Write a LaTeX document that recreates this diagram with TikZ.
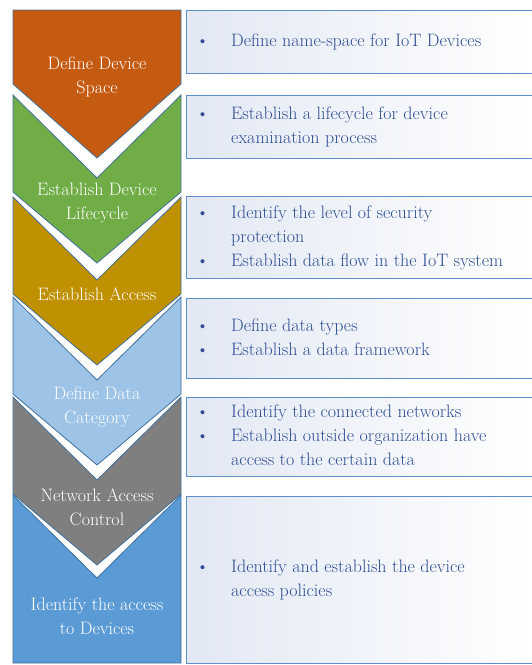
\documentclass[tikz,border=0pt]{standalone}
\usepackage{tikz}
\usetikzlibrary{positioning}

\definecolor{chevLine}{HTML}{41719C}
\definecolor{chevOrange}{HTML}{C55A11}
\definecolor{chevGreen}{HTML}{70AD47}
\definecolor{chevGold}{HTML}{BF9000}
\definecolor{chevSky}{HTML}{9DC3E6}
\definecolor{chevGray}{HTML}{7F7F7F}
\definecolor{chevBlue}{HTML}{5B9BD5}
\definecolor{boxLine}{HTML}{5E8FCA}
\definecolor{boxTint}{HTML}{E2E8F4}
\definecolor{boxText}{HTML}{2F4F94}

\tikzset{
  chevron/.style={draw=chevLine, line width=0.8pt, line join=miter},
  chevtext/.style={text=white, align=center, inner sep=0pt,
    font=\fontsize{18}{24}\selectfont},
  descbox/.style={draw=boxLine, line width=1pt, left color=boxTint, right color=white,
    minimum width=347pt, anchor=north west, inner sep=0pt},
  desctext/.style={text=boxText, inner sep=0pt, font=\fontsize{18}{24}\selectfont}
}
\newcommand{\bulletrows}[1]{\begin{tabular}{@{}p{35pt}@{}l@{}}#1\end{tabular}}

\begin{document}
\begin{tikzpicture}[x=1pt,y=-1pt]
  \useasboundingbox (0,0) rectangle (532,665);
  % chevrons on the left
  \draw[chevron, fill=chevOrange] (13,10) -- (181,10) -- (181,84) -- (97,158) -- (13,84) -- cycle;
  \foreach \t/\col in {95/chevGreen,197/chevGold,297/chevSky,397/chevGray}{
    \draw[chevron, fill=\col] (13,\t) -- (97,\t+83) -- (181,\t) -- (181,\t+97) -- (97,\t+168) -- (13,\t+97) -- cycle;
  }
  \draw[chevron, fill=chevBlue] (13,495) -- (97,578) -- (181,495) -- (181,663) -- (13,663) -- cycle;

  \node[chevtext] (c1) at (97,77) {Define Device\\Space};
  \node[chevtext] (c2) at (97,203) {Establish Device\\Lifecycle};
  \node[chevtext] (c3) at (97,294) {Establish Access};
  \node[chevtext] (c4) at (97,407) {Define Data\\Category};
  \node[chevtext] (c5) at (97,507) {Network Access\\Control};
  \node[chevtext] (c6) at (97,616) {Identify the access\\to Devices};

  % boxes on the right
  \foreach \t/\h [count=\i] in {10/63,95/63,196/82,298/80,397/79,496/167}
    \node[descbox, minimum height=\h pt] (b\i) at (186,\t) {};

  \node[desctext, right=10pt of b1.west] (d1) {\bulletrows{\textbullet & Define name-space for IoT Devices}};
  \node[desctext, right=10pt of b2.west] (d2) {\bulletrows{\textbullet & Establish a lifecycle for device\\ & examination process}};
  \node[desctext, right=10pt of b3.west] (d3) {\bulletrows{\textbullet & Identify the level of security\\ & protection\\ \textbullet & Establish data flow in the IoT system}};
  \node[desctext, right=10pt of b4.west] (d4) {\bulletrows{\textbullet & Define data types\\ \textbullet & Establish a data framework}};
  \node[desctext, right=10pt of b5.west] (d5) {\bulletrows{\textbullet & Identify the connected networks\\ \textbullet & Establish outside organization have\\ & access to the certain data}};
  \node[desctext, right=10pt of b6.west] (d6) {\bulletrows{\textbullet & Identify and establish the device\\ & access policies}};
\end{tikzpicture}
\end{document}
